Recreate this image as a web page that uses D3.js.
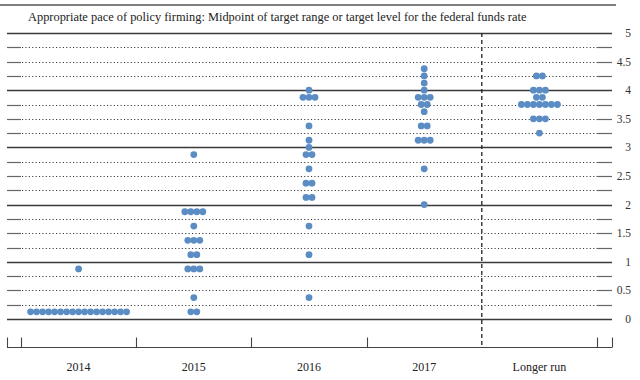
<!DOCTYPE html>
<html>
<head>
<meta charset="utf-8">
<script src="https://cdn.jsdelivr.net/npm/d3@7"></script>
<style>
  body { margin: 0; background: #fff; }
  svg { display: block; font-family: "Liberation Serif", "DejaVu Serif", serif; }
</style>
</head>
<body>
<svg width="640" height="380"></svg>
<script>
// Categories and one value per participant dot
var categories = ["2014", "2015", "2016", "2017", "Longer run"];

var dots2014 = [0.125, 0.125, 0.125, 0.125, 0.125, 0.125, 0.125, 0.125, 0.125,
                0.125, 0.125, 0.125, 0.125, 0.125, 0.125, 0.125, 0.125, 0.875];
var dots2015 = [0.125, 0.125, 0.375, 0.875, 0.875, 0.875, 1.125, 1.125,
                1.375, 1.375, 1.375, 1.625, 1.875, 1.875, 1.875, 1.875, 2.875];
var dots2016 = [0.375, 1.125, 1.625, 2.125, 2.125, 2.375, 2.375, 2.625,
                2.875, 2.875, 3.0, 3.125, 3.375, 3.875, 3.875, 3.875, 4.0];
var dots2017 = [2.0, 2.625, 3.125, 3.125, 3.125, 3.375, 3.375, 3.625,
                3.75, 3.75, 3.875, 3.875, 3.875, 4.0, 4.125, 4.25, 4.375];
var dotsLonger = [3.25, 3.5, 3.5, 3.5, 3.75, 3.75, 3.75, 3.75, 3.75, 3.75, 3.75,
                  3.875, 3.875, 4.0, 4.0, 4.0, 4.25, 4.25];

var yTicks = [0, 0.5, 1, 1.5, 2, 2.5, 3, 3.5, 4, 4.5, 5];
var gridLevels = d3.range(0, 5.01, 0.25);

var title = "Appropriate pace of policy firming: Midpoint of target range or target level for the federal funds rate";

var svg = d3.select("svg");

var x = d3.scaleBand().domain(categories).range([21, 597]);
var y = d3.scaleLinear().domain([0, 5]).range([319, 33]);

var lineColor = "#3a3a3a";
var dotColor = "#5b8dc4";

// top rule and title
svg.append("line")
    .attr("x1", 0).attr("x2", 616)
    .attr("y1", 5).attr("y2", 5)
    .attr("stroke", "#555").attr("stroke-width", 1.5);

svg.append("text")
    .attr("x", 28).attr("y", 21)
    .attr("font-size", 12.4)
    .attr("fill", "#222")
    .text(title);

// horizontal grid
var grid = svg.append("g");
gridLevels.forEach(function(v) {
  var yy = Math.round(y(v)) + 0.5;
  var solid = Math.abs(v - Math.round(v)) < 1e-9;
  if (solid) {
    grid.append("line")
        .attr("x1", 7).attr("x2", 612)
        .attr("y1", yy).attr("y2", yy)
        .attr("stroke", lineColor).attr("stroke-width", 1.4);
  } else {
    grid.append("line")
        .attr("x1", 7).attr("x2", 21)
        .attr("y1", yy).attr("y2", yy)
        .attr("stroke", "#666").attr("stroke-width", 1.2);
    grid.append("line")
        .attr("x1", 22).attr("x2", 597)
        .attr("y1", yy).attr("y2", yy)
        .attr("stroke", "#333").attr("stroke-width", 1.1)
        .attr("stroke-dasharray", "1.1,2.3");
    grid.append("line")
        .attr("x1", 597).attr("x2", 612)
        .attr("y1", yy).attr("y2", yy)
        .attr("stroke", "#666").attr("stroke-width", 1.2);
  }
});

// right-hand value labels
svg.append("g")
    .selectAll("text")
    .data(yTicks)
    .join("text")
    .attr("x", 631)
    .attr("y", function(d) { return y(d) + 4; })
    .attr("text-anchor", "end")
    .attr("font-size", 11.5)
    .attr("fill", "#333")
    .text(function(d) { return d; });

// dashed separator before the longer run
var sepX = x("Longer run");
svg.append("line")
    .attr("x1", sepX).attr("x2", sepX)
    .attr("y1", 33).attr("y2", 347)
    .attr("stroke", "#222").attr("stroke-width", 1.3)
    .attr("stroke-dasharray", "4,3");

// bottom axis with category boundaries
var axisY = 347.5;
svg.append("line")
    .attr("x1", 7).attr("x2", 612)
    .attr("y1", axisY).attr("y2", axisY)
    .attr("stroke", "#444").attr("stroke-width", 1.2);

var bounds = [7, 612].concat(categories.map(function(c) { return x(c); }), [x.range()[1]]);
svg.append("g")
    .selectAll("line")
    .data(bounds.filter(function(b) { return Math.abs(b - sepX) > 1; }))
    .join("line")
    .attr("x1", function(d) { return Math.round(d) + 0.5; })
    .attr("x2", function(d) { return Math.round(d) + 0.5; })
    .attr("y1", axisY).attr("y2", axisY - 10)
    .attr("stroke", "#444").attr("stroke-width", 1.1);

svg.append("g")
    .selectAll("text")
    .data(categories)
    .join("text")
    .attr("x", function(d) { return x(d) + x.bandwidth() / 2; })
    .attr("y", 371)
    .attr("text-anchor", "middle")
    .attr("font-size", 12)
    .attr("fill", "#222")
    .text(function(d) { return d; });

// dots: participants at the same value sit side by side
var series = [dots2014, dots2015, dots2016, dots2017, dotsLonger];
var spacing = 6;
var points = [];
series.forEach(function(vals, i) {
  var cx = x(categories[i]) + x.bandwidth() / 2;
  d3.rollups(vals, function(v) { return v.length; }, function(v) { return v; })
    .forEach(function(g) {
      var n = g[1];
      for (var k = 0; k < n; k++) {
        points.push({ x: cx + (k - (n - 1) / 2) * spacing, v: g[0] });
      }
    });
});

svg.append("g")
    .selectAll("circle")
    .data(points)
    .join("circle")
    .attr("cx", function(d) { return d.x; })
    .attr("cy", function(d) { return y(d.v); })
    .attr("r", 3.4)
    .attr("fill", dotColor);
</script>
</body>
</html>
